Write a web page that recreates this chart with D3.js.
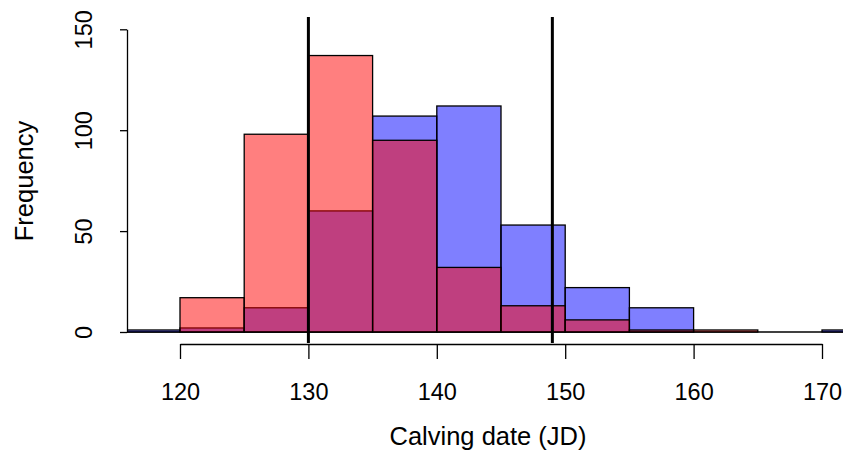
<!DOCTYPE html>
<html>
<head>
<meta charset="utf-8">
<title>Calving date</title>
<script src="https://d3js.org/d3.v7.min.js"></script>
<style>
  body { margin: 0; background: #fff; }
  text { font-family: "Liberation Sans", Arial, sans-serif; fill: #000; }
</style>
</head>
<body>
<svg id="chart" width="843" height="469"></svg>
<script>
// bins of 5 days, left edges
var binStarts = [115, 120, 125, 130, 135, 140, 145, 150, 155, 160, 165, 170];
var binWidth = 5;
// counts
var blueCounts = [1, 2, 12, 60, 107, 112, 53, 22, 12, 0, 0, 1];
var redCounts  = [0, 17, 98, 137, 95, 32, 13, 6, 1, 1, 0, 0];
var xTicks = [120, 130, 140, 150, 160, 170];
var yTicks = [0, 50, 100, 150];
var vLines = [130, 149];

var svg = d3.select("#chart");

var x = d3.scaleLinear().domain([120, 170]).range([180, 822]);
var y = d3.scaleLinear().domain([0, 150]).range([332, 29.3]);

// plot region (bars and lines are clipped to it)
var plotLeft = 127, plotRight = 860, plotTop = 17, plotBottom = 343;
svg.append("clipPath").attr("id", "plotclip")
  .append("rect").attr("x", plotLeft).attr("y", plotTop)
  .attr("width", plotRight - plotLeft).attr("height", plotBottom - plotTop);

var plot = svg.append("g").attr("clip-path", "url(#plotclip)");

// empty bins show up as a line along zero
plot.append("line")
  .attr("x1", plotLeft).attr("x2", plotRight)
  .attr("y1", y(0)).attr("y2", y(0))
  .style("stroke", "#000").style("stroke-width", 1.3);

function drawHist(counts, fill) {
  plot.append("g").selectAll("rect").data(counts).enter().append("rect")
    .attr("x", function(d, i) { return x(binStarts[i]); })
    .attr("width", function(d, i) { return x(binStarts[i] + binWidth) - x(binStarts[i]); })
    .attr("y", function(d) { return y(d); })
    .attr("height", function(d) { return y(0) - y(d); })
    .style("fill", fill)
    .style("stroke", "#000")
    .style("stroke-width", 1.3);
}
drawHist(blueCounts, "rgba(0,0,255,0.5)");
drawHist(redCounts, "rgba(255,0,0,0.5)");

// vertical reference lines
plot.append("g").selectAll("line").data(vLines).enter().append("line")
  .attr("x1", function(d) { return x(d); }).attr("x2", function(d) { return x(d); })
  .attr("y1", plotTop).attr("y2", plotBottom)
  .style("stroke", "#000").style("stroke-width", 3);

// x axis
var xAxis = svg.append("g").attr("transform", "translate(0," + 344 + ")")
  .call(d3.axisBottom(x).tickValues(xTicks).tickSizeOuter(0).tickSizeInner(15).tickPadding(24));
xAxis.select(".domain").style("stroke-width", 1.3);
xAxis.selectAll(".tick line").style("stroke-width", 1.3);
xAxis.selectAll("text").style("font-size", "23.5px");

// y axis
var yAxis = svg.append("g").attr("transform", "translate(" + plotLeft + ",0)")
  .call(d3.axisLeft(y).tickValues(yTicks).tickSizeOuter(0).tickSizeInner(7).tickPadding(0));
yAxis.select(".domain").style("stroke-width", 1.3);
yAxis.selectAll(".tick line").style("stroke-width", 1.3);
yAxis.selectAll(".tick text")
  .attr("x", null).attr("dy", null)
  .attr("text-anchor", "middle")
  .attr("transform", "translate(-35,0) rotate(-90)")
  .style("font-size", "23.5px");

// titles
svg.append("text").attr("x", 488).attr("y", 445).attr("text-anchor", "middle")
  .style("font-size", "25.5px").text("Calving date (JD)");
svg.append("text").attr("transform", "translate(33,181) rotate(-90)").attr("text-anchor", "middle")
  .style("font-size", "25.5px").text("Frequency");
</script>
</body>
</html>
